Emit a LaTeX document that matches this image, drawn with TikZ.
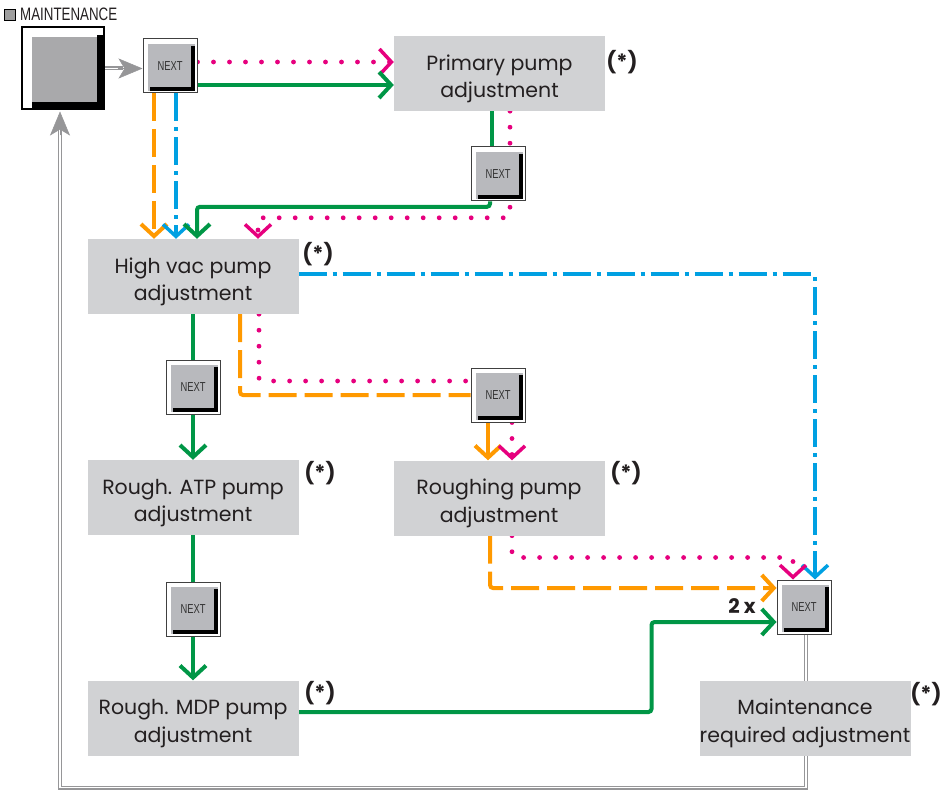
\documentclass[tikz,border=0pt]{standalone}
\usepackage{fontspec}
\usepackage{graphicx}
\newfontfamily\labfont{Poppins}
\newfontfamily\condfont{Liberation Sans}
\usetikzlibrary{arrows.meta,calc,backgrounds}
\definecolor{cgreen}{RGB}{0,150,70}
\definecolor{cmag}{RGB}{230,0,126}
\definecolor{corange}{RGB}{255,153,0}
\definecolor{ccyan}{RGB}{0,160,226}
\definecolor{boxgray}{RGB}{209,210,212}
\definecolor{btngray}{RGB}{184,185,189}
\definecolor{bigbtngray}{RGB}{169,169,171}
\definecolor{linegray}{RGB}{150,150,152}
\definecolor{txt}{RGB}{35,31,32}
\newcommand\twoline[2]{\raisebox{-5pt}[\height][\depth]{\begin{tabular}{@{}c@{}}#1\\#2\end{tabular}}}
\begin{document}
\begin{tikzpicture}[x=1pt,y=-1pt,
  adjbox/.style={fill=boxgray, minimum width=211pt, minimum height=75pt, inner sep=0pt,
    font=\labfont\fontsize{20.5}{27.5}\selectfont, text=txt},
  nextbtn/.style={draw=black!75, line width=1pt, fill=white, minimum size=54pt, inner sep=0pt,
    path picture={
      \fill[btngray] ([xshift=5pt,yshift=-5pt]path picture bounding box.north west) rectangle ([xshift=-2pt,yshift=2pt]path picture bounding box.south east);
      \fill[black] ([xshift=-6pt,yshift=-7pt]path picture bounding box.north east) rectangle ([xshift=-2pt,yshift=2pt]path picture bounding box.south east);
      \fill[black] ([xshift=7pt,yshift=6pt]path picture bounding box.south west) rectangle ([xshift=-2pt,yshift=2pt]path picture bounding box.south east);
    },
    font=\condfont\fontsize{13}{13}\selectfont, text=black!80},
  bigbtn/.style={draw=black, line width=2pt, fill=white, minimum size=82pt, inner sep=0pt,
    path picture={
      \fill[bigbtngray] ([xshift=10pt,yshift=-10pt]path picture bounding box.north west) rectangle ([xshift=-7pt,yshift=7pt]path picture bounding box.south east);
      \fill[black] ([xshift=-7pt,yshift=-8pt]path picture bounding box.north east) rectangle ([xshift=-1pt,yshift=1pt]path picture bounding box.south east);
      \fill[black] ([xshift=10pt,yshift=7pt]path picture bounding box.south west) rectangle ([xshift=-1pt,yshift=1pt]path picture bounding box.south east);
    }},
  starlbl/.style={font=\labfont\bfseries\fontsize{21}{21}\selectfont, text=txt, inner sep=0pt},
  chev/.style={-{Straight Barb[length=12pt,width=26pt]}},
  mchev/.style={-{Straight Barb[length=12pt,width=26pt,line width=3.5pt]}},
  gline/.style={cgreen, line width=4pt, rounded corners=3pt},
  mline/.style={cmag, line width=4.8pt, line cap=round, dash pattern=on 0pt off 16pt, rounded corners=3pt},
  oline/.style={corange, line width=4pt, dash pattern=on 28pt off 8pt, rounded corners=3pt},
  osolid/.style={corange, line width=4pt},
  cline/.style={ccyan, line width=3.5pt, dash pattern=on 28pt off 6pt on 4pt off 6pt, rounded corners=3pt},
  dline/.style={linegray, double=white, double distance=1.8pt, line width=1.1pt},
  gtip/.style={linegray, line width=0.5pt, -{Stealth[length=24pt,width=20pt,inset=6pt]}}
]
\useasboundingbox (0,0) rectangle (941,791);

% top-left legend
\node[draw=black, line width=1pt, fill=gray!75, minimum size=11pt, inner sep=0pt] (icon) at (9.5,15) {};
\node[anchor=west, inner sep=0pt, font=\condfont\fontsize{18}{18}\selectfont, text=txt] (mtxt) at (20,14.5) {\scalebox{0.74}[1]{MAINTENANCE}};

% buttons
\node[bigbtn] (maint) at (63,68.5) {};
\node[nextbtn] (n1) at (170,66) {\scalebox{0.72}[1]{NEXT}};
\node[nextbtn] (n2) at (498,174) {\scalebox{0.72}[1]{NEXT}};
\node[nextbtn] (n3) at (193,387) {\scalebox{0.72}[1]{NEXT}};
\node[nextbtn] (n4) at (498,395) {\scalebox{0.72}[1]{NEXT}};
\node[nextbtn] (n5) at (193,609) {\scalebox{0.72}[1]{NEXT}};
\node[nextbtn] (n6) at (804,607) {\scalebox{0.72}[1]{NEXT}};

% adjustment boxes
\node[adjbox] (prim) at (499.5,73.5) {\twoline{Primary pump}{adjustment}};
\node[adjbox] (hv) at (193,276.5) {\twoline{High vac pump}{adjustment}};
\node[adjbox] (atp) at (193,497.5) {\twoline{Rough. ATP pump}{adjustment}};
\node[adjbox] (rgh) at (499,498) {\twoline{Roughing pump}{adjustment}};
\node[adjbox] (mdp) at (193,718) {\twoline{Rough. MDP pump}{adjustment}};
\node[adjbox] (mra) at (805,718) {\twoline{Maintenance}{required adjustment}};

% (*) labels
\node[starlbl] (s1) at (622,62) {(*)};
\node[starlbl] (s2) at (318,254) {(*)};
\node[starlbl] (s3) at (320,473) {(*)};
\node[starlbl] (s4) at (626,473) {(*)};
\node[starlbl] (s5) at (320,693) {(*)};
\node[starlbl] (s6) at (926,694) {(*)};
\node[starlbl, font=\labfont\bfseries\fontsize{20}{20}\selectfont] (twox) at (742,606) {2 x};

\begin{pgfonlayer}{background}
% maintenance -> NEXT 1
\coordinate (a0) at (maint.east);
\draw[dline] (a0) -- ($(a0 -| n1.west)+(-20,0)$);
\draw[gtip] ($(a0 -| n1.west)+(-25,0)$) -- (a0 -| n1.west);

% NEXT 1 -> primary
\coordinate (m1) at ($(n1.east)+(0,-4)$);
\draw[mline,mchev] (m1) -- (m1 -| prim.west);
\coordinate (g1) at ($(n1.east)+(0,19)$);
\draw[gline,chev] (g1) -- (g1 -| prim.west);

% NEXT 1 -> high vac
\coordinate (o1) at ($(n1.south)+(-16,0)$);
\draw[oline,chev] (o1) -- (o1 |- hv.north);
\coordinate (c1) at ($(n1.south)+(6,0)$);
\draw[cline,chev] (c1) -- (c1 |- hv.north);

% primary -> NEXT 2
\coordinate (g2a) at ($(prim.south)+(-7.5,0)$);
\draw[gline] (g2a) -- (g2a |- n2.north);
\coordinate (m2) at ($(prim.south)+(10.5,0)$);
\draw[mline,mchev] (m2) |- ($(hv.north)+(65,-21)$) -- ($(hv.north)+(65,0)$);
\coordinate (g2) at ($(n2.south)+(-8,0)$);
\draw[gline,chev] (g2) |- ($(hv.north)+(4,-32)$) -- ($(hv.north)+(4,0)$);

% high vac -> NEXT 6 (cyan)
\coordinate (cy) at ($(hv.east)+(0,-2.5)$);
\draw[cline,chev] (cy) -| ($(n6.north)+(11,0)$);

% high vac -> NEXT 3 -> ATP
\draw[gline] (hv.south) -- (n3.north);
\draw[gline,chev] (n3.south) -- (atp.north);

% high vac -> NEXT 4
\coordinate (o2) at ($(hv.south)+(47,0)$);
\draw[oline] (o2) |- (n4.west);
\coordinate (m3) at ($(hv.south)+(66,0)$);
\draw[mline] (m3) |- ($(n4.west)+(0,-14)$);

% NEXT 4 -> roughing
\coordinate (o3a) at ($(n4.south)+(-10,0)$);
\draw[osolid,chev] (o3a) -- (o3a |- rgh.north);
\coordinate (m4a) at ($(n4.south)+(14,0)$);
\draw[mline,mchev] (m4a) -- (m4a |- rgh.north);

% roughing -> NEXT 6
\coordinate (o3) at ($(rgh.south)+(-9,0)$);
\draw[oline,chev] (o3) |- ($(n6.west)+(0,-19)$);
\coordinate (m4) at ($(rgh.south)+(13,0)$);
\draw[mline,mchev] (m4) |- ($(n6.north)+(-11,-22)$) -- ($(n6.north)+(-11,0)$);

% ATP -> NEXT 5 -> MDP
\draw[gline] (atp.south) -- (n5.north);
\draw[gline,chev] (n5.south) -- (mdp.north);

% MDP -> NEXT 6
\coordinate (g3) at ($(mdp.east)+(0,-6)$);
\draw[gline,chev] (g3) -| ($(n6.west)+(-125,15)$) -- ($(n6.west)+(0,15)$);

% NEXT 6 -> maintenance required -> back to MAINTENANCE
\draw[dline] ($(n6.south)+(2,0)$) -- ++(0,153) -| ($(maint.south)+(-3,20)$);
\draw[gtip] ($(maint.south)+(-3,25)$) -- ($(maint.south)+(-3,1)$);
\end{pgfonlayer}
\end{tikzpicture}
\end{document}
